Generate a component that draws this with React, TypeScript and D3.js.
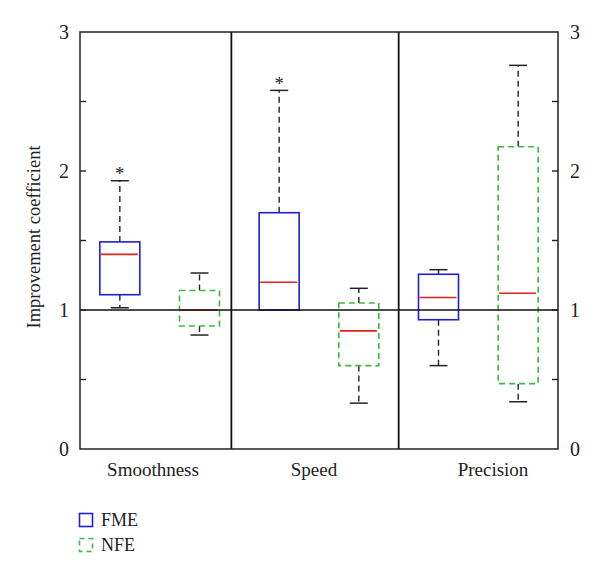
import * as d3 from 'd3';

const categories = ['Smoothness', 'Speed', 'Precision'];
const seriesNames = ['FME', 'NFE'];

// per category: Smoothness, Speed, Precision
const fmeLow = [1.016, 1.0, 0.6];
const fmeQ1 = [1.11, 1.0, 0.93];
const fmeMedian = [1.4, 1.2, 1.09];
const fmeQ3 = [1.49, 1.7, 1.257];
const fmeHigh = [1.93, 2.58, 1.29];
const fmeOutlier = [2.0, 2.65, null];

const nfeLow = [0.82, 0.33, 0.34];
const nfeQ1 = [0.885, 0.6, 0.47];
const nfeMedian = [1.0, 0.85, 1.12];
const nfeQ3 = [1.14, 1.05, 2.175];
const nfeHigh = [1.266, 1.156, 2.76];
const nfeOutlier = [null, null, null];

const yTicks = [0, 1, 2, 3];
const yMinorTicks = [0.5, 1, 1.5, 2, 2.5];
const dividers = [1.4, 3.5];

const W = 600;
const H = 577;
const margin = { top: 32, left: 80, right: 42, bottom: 128 };
const plotRight = W - margin.right;
const plotBottom = H - margin.bottom;

const serif = '"Liberation Serif", "DejaVu Serif", serif';
const colors = { FME: '#1f1fd6', NFE: '#3db83d' };
const medianColor = '#e2231a';

const boxW = 40;
const capW = 18;

export default function App() {
  const y = d3.scaleLinear().domain([0, 3]).range([plotBottom, margin.top]);
  const x = d3.scaleLinear().domain([-0.5, 5.5]).range([margin.left, plotRight]);

  const labelX = [153, 314, 493];

  const boxes = categories.flatMap((cat, ci) => [
    { cat, s: 'FME', slot: ci * 2, low: fmeLow[ci], q1: fmeQ1[ci], med: fmeMedian[ci], q3: fmeQ3[ci], high: fmeHigh[ci], out: fmeOutlier[ci] },
    { cat, s: 'NFE', slot: ci * 2 + 1, low: nfeLow[ci], q1: nfeQ1[ci], med: nfeMedian[ci], q3: nfeQ3[ci], high: nfeHigh[ci], out: nfeOutlier[ci] },
  ]);

  return (
    <svg width={W} height={H} style={{ display: 'block', position: 'absolute', left: 0, top: 0, background: '#fff' }}>
      <rect width={W} height={H} fill="#fff" />
      {boxes.map((b, i) => {
        const cx = x(b.slot);
        const dashed = b.s === 'NFE';
        return (
          <g key={i}>
            {/* whiskers */}
            <line x1={cx} x2={cx} y1={y(b.q3)} y2={y(b.high)} stroke="#222" strokeWidth={1.4} strokeDasharray="6,4" />
            <line x1={cx} x2={cx} y1={y(b.q1)} y2={y(b.low)} stroke="#222" strokeWidth={1.4} strokeDasharray="6,4" />
            <line x1={cx - capW / 2} x2={cx + capW / 2} y1={y(b.high)} y2={y(b.high)} stroke="#222" strokeWidth={1.5} />
            <line x1={cx - capW / 2} x2={cx + capW / 2} y1={y(b.low)} y2={y(b.low)} stroke="#222" strokeWidth={1.5} />
            <rect
              x={cx - boxW / 2}
              y={y(b.q3)}
              width={boxW}
              height={y(b.q1) - y(b.q3)}
              fill="#fff"
              stroke={colors[b.s]}
              strokeWidth={1.6}
              strokeDasharray={dashed ? '6,4' : undefined}
            />
            <line x1={cx - boxW / 2 + 1} x2={cx + boxW / 2 - 2} y1={y(b.med)} y2={y(b.med)} stroke={medianColor} strokeWidth={1.6} />
            {b.out != null && (
              <text x={cx} y={y(b.out) + 9} textAnchor="middle" fontFamily={serif} fontSize={19} fill="#222">*</text>
            )}
          </g>
        );
      })}

      {/* reference line at 1 */}
      <line x1={margin.left} x2={plotRight} y1={y(1)} y2={y(1)} stroke="#111" strokeWidth={1.4} />

      {/* panel dividers */}
      {dividers.map((d) => (
        <line key={d} x1={x(d)} x2={x(d)} y1={margin.top} y2={plotBottom} stroke="#111" strokeWidth={1.8} />
      ))}

      {/* frame */}
      <rect x={margin.left} y={margin.top} width={plotRight - margin.left} height={plotBottom - margin.top} fill="none" stroke="#222" strokeWidth={1.5} />

      {/* ticks */}
      {yMinorTicks.map((t) => (
        <g key={t}>
          <line x1={margin.left} x2={margin.left + 6} y1={y(t)} y2={y(t)} stroke="#222" strokeWidth={1.4} />
          <line x1={plotRight - 6} x2={plotRight} y1={y(t)} y2={y(t)} stroke="#222" strokeWidth={1.4} />
        </g>
      ))}
      {yTicks.map((t) => (
        <g key={t} fontFamily={serif} fontSize={20} fill="#222">
          <text x={margin.left - 11} y={y(t)} dy="0.35em" textAnchor="end">{t}</text>
          <text x={plotRight + 12} y={y(t)} dy="0.35em" textAnchor="start">{t}</text>
        </g>
      ))}

      {/* y title */}
      <text
        transform={`translate(34, 237) rotate(-90)`}
        textAnchor="middle"
        dy="0.35em"
        fontFamily={serif}
        fontSize={18.5}
        fill="#222"
      >
        Improvement coefficient
      </text>

      {/* category labels */}
      {categories.map((c, i) => (
        <text key={c} x={labelX[i]} y={plotBottom + 27} textAnchor="middle" fontFamily={serif} fontSize={19} fill="#222">
          {c}
        </text>
      ))}

      {/* legend */}
      {seriesNames.map((s, i) => (
        <g key={s} transform={`translate(79, ${513 + i * 25})`}>
          <rect x={0.5} y={0.5} width={13} height={13} fill="#fff" stroke={colors[s]} strokeWidth={1.6} strokeDasharray={s === 'NFE' ? '5,4' : undefined} />
          <text x={22} y={7} dy="0.35em" fontFamily={serif} fontSize={18} fill="#222">{s}</text>
        </g>
      ))}
    </svg>
  );
}
